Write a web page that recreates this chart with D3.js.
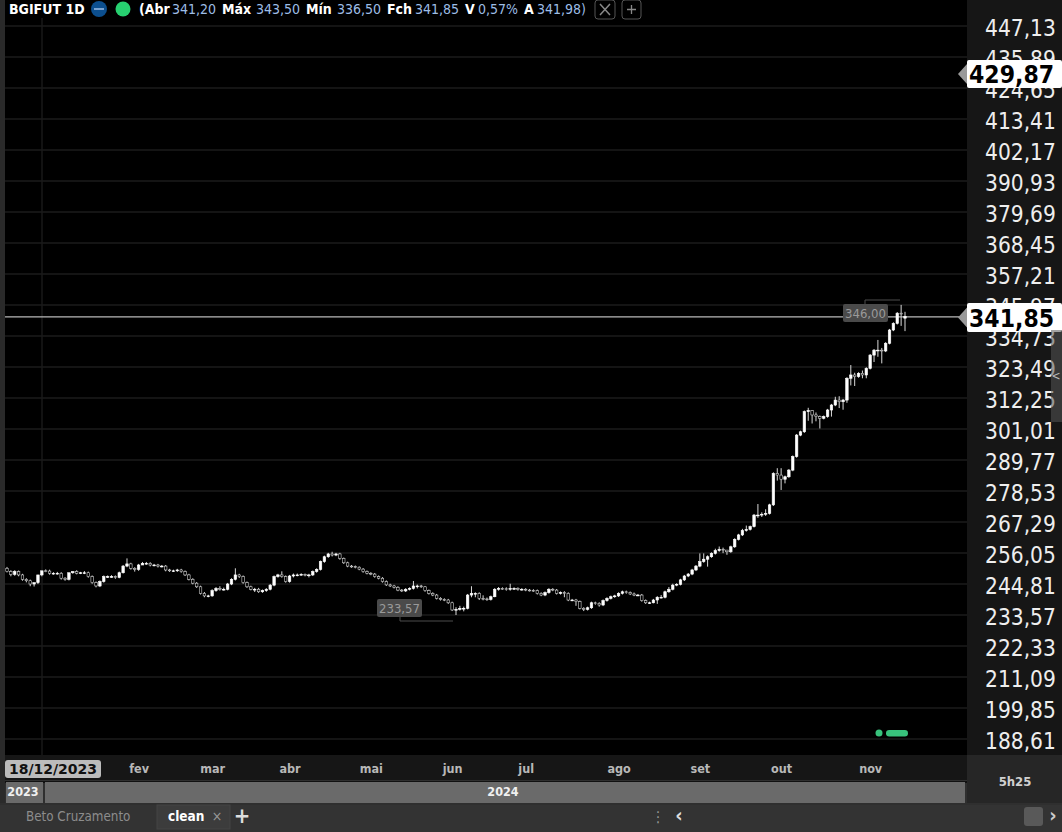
<!DOCTYPE html>
<html><head><meta charset="utf-8">
<script src="https://cdn.jsdelivr.net/npm/d3@7"></script>
<style>html,body{margin:0;padding:0;background:#2b2b2b;overflow:hidden}svg{display:block}
text{font-family:"DejaVu Sans Condensed","DejaVu Sans",sans-serif}</style></head><body>
<svg id="c" width="1062" height="832"></svg>
<script>
const opens=[250.5,249.3,248.3,249.3,248.1,246.5,246.0,244.8,245.3,248.1,249.6,249.5,248.7,248.7,248.7,246.9,246.5,248.9,249.3,248.7,248.9,248.9,247.5,245.3,244.1,245.7,247.5,247.5,247.5,247.2,248.9,251.3,252.1,250.5,250.1,251.7,252.3,252.3,251.7,251.7,251.3,251.3,249.9,249.6,249.6,249.9,249.3,248.1,246.5,245.1,243.8,241.4,240.5,240.5,242.4,243.2,242.9,242.9,244.8,246.5,248.1,247.5,245.3,243.8,242.9,242.9,242.0,242.4,242.9,244.4,247.5,248.1,247.5,245.7,247.7,248.1,248.1,248.3,248.1,248.1,249.3,250.1,252.9,254.7,255.7,255.3,255.7,
254.1,252.5,251.3,251.1,250.9,250.2,249.3,248.7,248.4,247.5,246.9,245.7,244.5,244.1,243.6,242.6,242.3,242.9,243.2,244.1,244.1,243.8,242.4,241.4,240.8,239.6,239.2,239.0,238.0,235.4,235.6,236.0,236.0,240.8,241.4,241.4,239.6,239.4,239.2,240.2,242.9,243.2,243.1,242.9,243.2,243.2,242.9,242.9,242.6,242.5,242.4,241.4,240.8,241.7,242.9,242.6,241.4,241.7,241.4,239.0,239.0,238.4,236.0,235.6,236.2,238.0,237.8,237.2,238.8,239.6,240.2,240.5,241.4,242.0,241.7,241.2,240.8,240.8,238.8,238.0,238.0,239.0,240.0,240.0,242.0,
242.9,244.4,244.7,246.3,247.7,248.4,249.9,251.3,252.9,253.8,254.7,255.9,256.9,257.4,257.1,256.5,258.3,261.0,262.6,264.2,264.6,265.6,269.8,269.8,270.1,270.4,273.5,284.9,284.3,282.8,283.7,286.1,291.0,298.8,300.0,307.3,307.7,306.1,
305.5,304.9,305.5,307.9,309.7,311.5,310.9,311.5,319.4,320.6,320.0,321.2,320.6,323.0,327.8,329.6,329.6,329.3,332.1,336.9,339.3,343.0,341.2];
const closes=[249.3,248.3,249.3,248.1,246.5,246.0,244.8,245.3,248.1,249.6,249.5,248.7,248.7,248.7,246.9,246.5,248.9,249.3,248.7,248.9,248.9,247.5,245.3,244.1,245.7,247.5,247.5,247.5,247.2,248.9,251.3,252.1,250.5,250.1,251.7,252.3,252.3,251.7,251.7,251.3,251.3,249.9,249.6,249.6,249.9,249.3,248.1,246.5,245.1,243.8,241.4,240.5,240.5,242.4,243.2,242.9,242.9,244.8,246.5,248.1,247.5,245.3,243.8,242.9,242.9,242.0,242.4,242.9,244.4,247.5,248.1,247.5,245.7,247.7,248.1,248.1,248.3,248.1,248.1,249.3,250.1,252.9,254.7,255.7,255.3,255.7,254.1,
252.5,251.3,251.1,250.9,250.2,249.3,248.7,248.4,247.5,246.9,245.7,244.5,244.1,243.6,242.6,242.3,242.9,243.2,244.1,244.1,243.8,242.4,241.4,240.8,239.6,239.2,239.0,238.0,235.4,235.6,236.0,236.0,240.8,241.4,241.4,239.6,239.4,239.2,240.2,242.9,243.2,243.1,242.9,243.2,243.2,242.9,242.9,242.6,242.5,242.4,241.4,240.8,241.7,242.9,242.6,241.4,241.7,241.4,239.0,239.0,238.4,236.0,235.6,236.2,238.0,237.8,237.2,238.8,239.6,240.2,240.5,241.4,242.0,241.7,241.2,240.8,240.8,238.8,238.0,238.0,239.0,240.0,240.0,242.0,242.9,
244.4,244.7,246.3,247.7,248.4,249.9,251.3,252.9,253.8,254.7,255.9,256.9,257.4,257.1,256.5,258.3,261.0,262.6,264.2,264.6,265.6,269.8,269.8,270.1,270.4,273.5,284.9,284.3,282.8,283.7,286.1,291.0,298.8,300.0,307.3,307.7,306.1,305.5,
304.9,305.5,307.9,309.7,311.5,310.9,311.5,319.4,320.6,320.0,321.2,320.6,323.0,327.8,329.6,329.6,329.3,332.1,336.9,339.3,343.0,342.7,341.85];
const highs=[251.0,249.8,249.8,249.7,248.5,246.9,246.4,245.3,245.7,248.6,250.1,250.0,249.1,249.2,249.1,247.3,247.0,249.4,249.8,249.2,249.5,249.3,247.9,245.7,246.1,247.9,247.9,248.0,247.9,249.3,251.7,254.1,252.5,250.9,252.1,252.8,252.8,252.7,252.1,252.1,251.7,251.7,250.3,250.0,250.3,250.3,249.7,248.5,246.9,245.5,244.2,241.9,240.9,242.9,243.7,244.0,243.5,245.2,246.9,250.5,248.5,247.9,245.7,244.2,243.4,243.4,242.8,243.3,244.8,247.9,248.5,249.4,247.9,248.1,248.6,248.6,248.7,248.6,248.5,249.7,250.5,253.3,255.1,256.1,256.5,256.1,256.1,
254.4,252.9,251.7,251.5,251.2,250.6,249.7,249.1,248.8,247.9,247.3,246.1,244.9,244.5,244.0,243.0,243.3,243.6,245.9,244.6,244.5,244.1,242.8,241.8,241.2,240.0,239.6,239.4,238.4,236.4,236.9,236.6,241.2,244.0,241.8,241.8,240.7,239.9,240.6,243.3,243.7,243.6,243.6,244.9,243.6,243.6,243.3,243.3,243.0,242.9,242.8,241.8,242.1,243.3,243.3,243.0,242.1,242.2,241.8,239.4,239.4,238.8,236.4,236.6,238.4,238.4,238.2,239.2,240.0,240.6,240.9,241.8,242.4,242.4,242.1,241.7,241.2,241.2,239.2,238.4,239.4,240.4,240.8,242.4,243.7,
244.9,245.1,246.7,248.1,248.8,250.3,251.7,255.9,255.9,255.2,256.3,257.6,258.4,258.0,257.0,258.7,261.4,263.0,264.8,266.0,266.0,270.2,273.8,270.8,271.9,273.9,285.3,286.8,286.8,284.1,286.5,291.4,299.2,300.4,307.7,308.7,307.9,307.0,
305.9,305.9,308.3,310.1,312.7,312.9,311.9,319.8,324.2,321.4,321.6,322.2,323.4,328.2,330.0,333.3,330.4,332.5,337.3,339.7,343.4,346.0,343.5];
const lows=[249.0,247.6,247.8,247.6,246.0,245.4,244.0,243.9,244.8,247.6,249.1,248.2,248.2,248.2,246.4,246.0,246.1,248.5,248.3,248.4,248.4,247.1,244.9,243.6,243.7,245.3,247.0,247.1,246.7,246.9,248.6,250.9,250.0,249.3,249.6,251.8,251.8,251.2,251.2,250.8,250.8,249.4,249.2,249.2,249.2,248.9,247.7,246.1,244.7,243.4,241.0,240.0,240.0,240.2,242.0,242.4,242.4,242.5,244.4,246.1,247.0,244.9,243.4,242.5,241.9,241.6,241.6,242.0,242.5,244.0,247.1,247.1,245.3,245.3,247.2,247.6,247.8,247.6,247.2,247.7,248.9,249.7,252.5,254.3,254.8,254.9,253.6,
252.1,250.9,250.7,250.5,249.8,248.9,248.3,248.0,247.1,246.5,245.3,244.1,243.7,243.2,242.2,241.9,241.9,242.5,242.8,243.2,243.4,242.0,241.0,240.4,239.2,238.8,238.6,237.6,235.0,233.57,235.2,234.9,235.6,240.0,240.0,239.0,238.9,238.7,238.8,240.0,242.4,242.7,242.4,242.4,242.7,242.4,242.4,242.2,242.1,242.0,241.0,240.4,240.4,241.3,242.2,241.0,241.0,240.0,238.6,238.6,236.9,235.6,235.0,235.2,235.8,237.3,236.6,236.8,238.4,239.2,239.8,240.1,241.0,241.3,240.8,240.4,240.4,238.4,237.6,237.6,237.8,237.6,239.6,239.6,241.6,
242.5,244.0,244.3,245.9,247.3,248.0,249.5,250.9,252.5,251.1,254.3,255.5,256.5,256.0,255.4,256.1,257.9,260.6,262.2,263.8,264.2,265.3,268.8,269.1,269.5,270.0,273.1,282.3,278.9,281.3,283.3,285.7,290.6,298.4,299.6,304.0,303.0,303.8,
301.2,304.5,305.1,305.5,309.3,308.6,308.0,310.5,316.8,316.6,319.6,319.4,319.4,322.6,325.3,327.2,324.8,328.9,331.7,336.5,338.9,338.4,336.5];
const priceTicks=[447.13,435.89,424.65,413.41,402.17,390.93,379.69,368.45,357.21,345.97,334.73,323.49,312.25,301.01,289.77,278.53,267.29,256.05,244.81,233.57,222.33,211.09,199.85,188.61];
const monthIdx=[34,53,73,94,115,134,158,179,200,223];
const monthNames=["fev","mar","abr","mai","jun","jul","ago","set","out","nov"];
const lastPrice=341.85, projPrice=429.87, maxPrice=346.00, minPrice=233.57;
const headerParts=[["BGIFUT 1D",9,"#fff",1],["(Abr",139,"#fff",1],["341,20",172,"#9dbde6",0],["Máx",222,"#fff",1],["343,50",256,"#9dbde6",0],["Mín",306,"#fff",1],["336,50",337,"#9dbde6",0],["Fch",387,"#fff",1],["341,85",415,"#9dbde6",0],["V",465,"#fff",1],["0,57%",478,"#9dbde6",0],["A",524,"#fff",1],["341,98)",537,"#9dbde6",0]];

const svg=d3.select("#c");
const R=(x,y,w,h,f,extra)=>{const r=svg.append("rect").attr("x",x).attr("y",y).attr("width",w).attr("height",h).attr("fill",f);if(extra)for(const k in extra)r.attr(k,extra[k]);return r;};
const T=(s,x,y,size,fill,weight,anchor)=>svg.append("text").text(s).attr("x",x).attr("y",y).attr("font-size",size).attr("fill",fill).attr("font-weight",weight||"normal").attr("text-anchor",anchor||"start");

const defs=svg.append("defs");
defs.append("filter").attr("id","soft").append("feGaussianBlur").attr("stdDeviation",0.3);

R(0,0,1062,832,"#2f2f2f");
R(0,0,5,803,"#2a2a2a");
R(5,0,962,755,"#000");
R(967,0,95,755,"#161616");
R(5,755,962,25,"#161616");
R(967,755,95,48,"#262626");

const y=d3.scaleLinear().domain([233.57,447.13]).range([615,26]);
const x=d3.scaleLinear().domain([0,closes.length-1]).range([7,905]);
const fmt2=d3.formatLocale({decimal:",",thousands:".",grouping:[3],currency:["",""]}).format(".2f");

// grid
svg.append("g").selectAll("line").data(priceTicks).join("line")
 .attr("x1",5).attr("x2",967).attr("y1",d=>y(d)).attr("y2",d=>y(d)).attr("stroke","#1b1b1b").attr("stroke-width",1.4);
svg.append("line").attr("x1",42).attr("x2",42).attr("y1",18).attr("y2",755).attr("stroke","#1b1b1b").attr("stroke-width",1.4);

// price axis
const ya=d3.axisRight(y).tickValues(priceTicks).tickFormat(fmt2).tickSize(0).tickPadding(0);
const gy=svg.append("g").attr("transform","translate(985,2)").call(ya);
gy.select(".domain").remove();
gy.selectAll("text").attr("font-size",22.5).attr("fill","#eee").attr("font-family",'"DejaVu Sans Condensed","DejaVu Sans",sans-serif');

// last price line
svg.append("line").attr("x1",5).attr("x2",960).attr("y1",y(lastPrice)+.5).attr("y2",y(lastPrice)+.5).attr("stroke","#b9b9b9").attr("stroke-width",1.2);

// min/max annotations
const ann=(v,bx,by,ax,ay,tx)=>{
 svg.append("path").attr("d",`M${ax},${by<ay?by+18:by}L${ax},${ay}L${tx},${ay}`).attr("fill","none").attr("stroke","#4d4d4d");
 R(bx,by,45,18,"#4a4a4a",{rx:2});
 T(fmt2(v),bx+22.5,by+14,13,"#9a9a9a","normal","middle");
};
ann(minPrice,377,599,400,621,453);
ann(maxPrice,843,304,865,300,900);

// candles
const idx=d3.range(closes.length);
const cg=svg.append("g").attr("filter","url(#soft)");
cg.selectAll("line").data(idx).join("line")
 .attr("x1",i=>x(i)).attr("x2",i=>x(i)).attr("y1",i=>y(highs[i])).attr("y2",i=>y(lows[i])).attr("stroke","#d8d8d8").attr("stroke-width",1);
cg.selectAll("rect").data(idx).join("rect")
 .attr("x",i=>x(i)-1.25).attr("width",2.5)
 .attr("y",i=>y(Math.max(opens[i],closes[i])))
 .attr("height",i=>Math.max(.8,Math.abs(y(opens[i])-y(closes[i]))))
 .attr("fill",i=>closes[i]>=opens[i]?"#fff":"#000")
 .attr("stroke",i=>closes[i]>=opens[i]?"#fff":"#cfcfcf").attr("stroke-width",.6);

// green markers
svg.append("circle").attr("cx",879).attr("cy",733).attr("r",3.5).attr("fill","#38c27c");
R(886,730,22,6.5,"#38c27c",{rx:3.2});

// header
headerParts.forEach(p=>T(p[0],p[1],14,14,p[2],p[3]?"bold":"normal"));
svg.append("circle").attr("cx",99).attr("cy",9).attr("r",8).attr("fill","#0c4f8f");
R(94,8,10,2,"#a8c8ee",{opacity:.7});
svg.append("circle").attr("cx",123).attr("cy",9).attr("r",7.5).attr("fill","#27d070");
R(595,0,20,19,"#000",{stroke:"#555",rx:3});
svg.append("path").attr("d","M600,4L610,15M610,4L600,15").attr("stroke","#888").attr("stroke-width",1.5);
R(622,0,19,19,"#000",{stroke:"#555",rx:3});
svg.append("path").attr("d","M631.5,5V14M627,9.5H636").attr("stroke","#888").attr("stroke-width",1.3);

// price tags
const tag=(v,top,h)=>{
 const cy=top+h/2;
 svg.append("path").attr("d",`M958,${cy}L967,${cy-10}L967,${cy+10}Z`).attr("fill","#999");
 R(967,top,95,h,"#fff",{rx:2});
 T(fmt2(v),969,cy+9,24.5,"#000","bold");
};
tag(projPrice,60,28);
tag(lastPrice,303,29);

// right scrollbar
R(1051,330,11,92,"#555",{opacity:.55});
T("<",1056,380,12,"#bbb","normal","middle");

// time axis
const xa=d3.axisBottom(x).tickValues(monthIdx).tickFormat((d,i)=>monthNames[i]).tickSize(0).tickPadding(0);
const gx=svg.append("g").attr("transform","translate(0,764)").call(xa);
gx.select(".domain").remove();
gx.selectAll("text").attr("font-size",12.5).attr("fill","#b8b8b8").attr("font-family",'"DejaVu Sans Condensed","DejaVu Sans",sans-serif').attr("font-weight","bold");
R(5,760,96,18,"#bcbcbc",{rx:3});
T("18/12/2023",53,774,14,"#111","bold","middle").style("font-family",'"DejaVu Sans"');
T("5h25",1015,786,13,"#d0d0d0","bold","middle");

// year strip
R(5,781,962,2,"#111");
R(6,782,37,21,"#6a6a6a");
R(45,782,920,21,"#6a6a6a");
T("2023",23,796,12.5,"#f0f0f0","bold","middle");
T("2024",503,796,12.5,"#f0f0f0","bold","middle");

// tabs
R(0,805,1062,27,"#333");
R(157,805,73,24,"#3c3c3c",{stroke:"#444"});
T("Beto Cruzamento",26,821,13.3,"#8c8c8c");
T("clean",168,821,13.5,"#fff","bold");
T("×",217,821,14,"#999","normal","middle");
T("+",242,823,22,"#ddd","bold","middle");
T("⋮",658,822,15,"#999","normal","middle");
T("‹",679,822,20,"#ddd","bold","middle");
R(1024,807,19,19,"#595959",{rx:3});
T("›",1053,822,20,"#ccc","bold","middle");
</script></body></html>
